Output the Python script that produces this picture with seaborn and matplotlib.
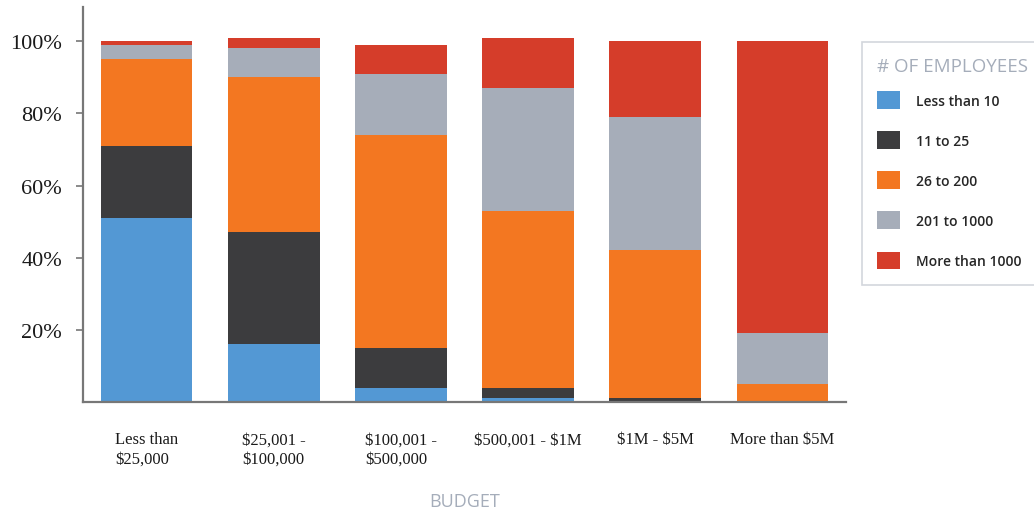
import pandas as pd
import matplotlib.pyplot as plt
from matplotlib.patches import Patch
import seaborn as sns

# budget categories and share of respondents (%) by number of employees
budgets = ["Less than\n$25,000", "$25,001 -\n$100,000", "$100,001 -\n$500,000",
           "$500,001 - $1M", "$1M - $5M", "More than $5M"]
less_than_10 = [51, 16, 4, 1, 0, 0]
from_11_to_25 = [20, 31, 11, 3, 1, 0.3]
from_26_to_200 = [24, 43, 59, 49, 41, 4.7]
from_201_to_1000 = [4, 8, 17, 34, 37, 14]
more_than_1000 = [1, 3, 8, 14, 21, 81]

series_names = ["Less than 10", "11 to 25", "26 to 200", "201 to 1000", "More than 1000"]
colors = ["#5398d4", "#3c3c3e", "#f37721", "#a6adb9", "#d53d2a"]

df = pd.DataFrame({
    "budget": budgets,
    "Less than 10": less_than_10,
    "11 to 25": from_11_to_25,
    "26 to 200": from_26_to_200,
    "201 to 1000": from_201_to_1000,
    "More than 1000": more_than_1000,
})

# cumulative totals, drawn from the top layer down so each bar shows its segment
cum = df[series_names].cumsum(axis=1)
cum["budget"] = df["budget"]

sns.set_style("white")
fig = plt.figure(figsize=(10.34, 5.10), dpi=100)
ax = fig.add_axes([83 / 1034, 1 - 403 / 510, 763 / 1034, 395 / 510])

for name, color in reversed(list(zip(series_names, colors))):
    sns.barplot(data=cum, x="budget", y=name, order=budgets, color=color,
                width=0.72, saturation=1, edgecolor="none", linewidth=0, ax=ax)

ax.set_xlim(-0.5, 5.5)
ax.set_ylim(0, 109.5)
ax.set_yticks([20, 40, 60, 80, 100])
ax.set_yticklabels([f"{v}%" for v in [20, 40, 60, 80, 100]],
                   family="Liberation Serif", fontsize=16, color="#1a1a1a")
ax.set_xticks(range(len(budgets)))
# escape the dollar signs so they are not read as mathtext
ax.set_xticklabels([b.replace("$", r"\$") for b in budgets], family="Liberation Serif",
                   fontsize=12, color="#1a1a1a", linespacing=1.3)
for lbl in ax.get_xticklabels():
    lbl.set_multialignment("left")
ax.tick_params(axis="x", length=0, pad=21)
ax.tick_params(axis="y", length=5, width=1.2, color="#777777", pad=10, left=True)
ax.set_ylabel("")
ax.set_xlabel("")
fig.text(464.5 / 1034, 1 - 502 / 510, "BUDGET", family="Open Sans", fontsize=13,
         color="#a5adba", ha="center", va="center")

sns.despine(ax=ax)
for side in ["left", "bottom"]:
    ax.spines[side].set_color("#777777")
    ax.spines[side].set_linewidth(1.6)

handles = [Patch(facecolor=c, edgecolor="none", label=n) for n, c in zip(series_names, colors)]
leg = fig.legend(handles=handles, title="# OF EMPLOYEES", loc="upper left",
                 bbox_to_anchor=(862 / 1034, 1 - 43 / 510), borderaxespad=0,
                 prop={"family": "Open Sans", "weight": "semibold", "size": 10},
                 title_fontproperties={"family": "Open Sans", "size": 13.5},
                 alignment="left", handlelength=1.6, handleheight=1.6,
                 handletextpad=1.2, labelspacing=1.6, borderpad=1.1,
                 frameon=True, fancybox=False, edgecolor="#c8ccd4")
leg.get_title().set_color("#a5adba")
leg.get_frame().set_linewidth(1.2)
leg._legend_box.sep = 11.5  # points; tighter gap between title and first entry

fig.savefig("out.png", dpi=100)
